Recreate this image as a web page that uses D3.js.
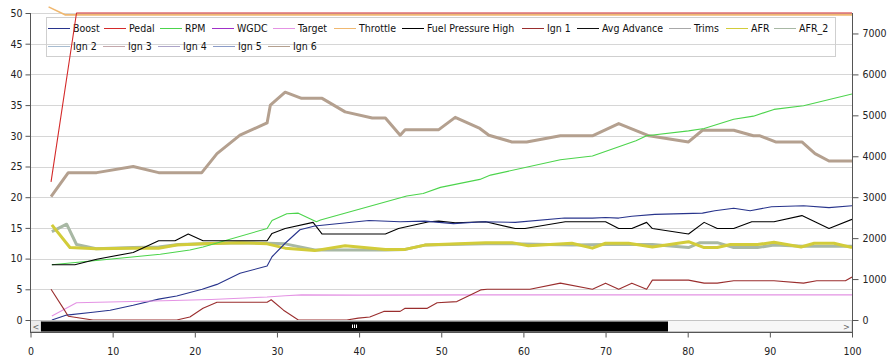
<!DOCTYPE html>
<html>
<head>
<meta charset="utf-8">
<script src="https://cdn.jsdelivr.net/npm/d3@7"></script>
<style>
    body { margin: 0; background: #fff; }
    svg text { font-family: 'DejaVu Sans Condensed', 'Liberation Sans', sans-serif; font-size: 10.5px; fill: #222; }
</style>
</head>
<body>
<div id="chart"></div>
<script>
// ---------- DATA (x = log position, value on left scale unless noted) ----------
const xTicks = [0, 10, 20, 30, 40, 50, 60, 70, 80, 90, 100];
const leftTicks = [0, 5, 10, 15, 20, 25, 30, 35, 40, 45, 50];
const rightTicks = [0, 1000, 2000, 3000, 4000, 5000, 6000, 7000];

const boost = [[2.6, 0], [4.4, 0.8], [7.6, 1.25], [9.7, 1.6], [12.5, 2.4], [15.6, 3.4], [17.8, 3.9], [20.9, 5.0], [22.7, 5.8], [25.5, 7.6], [28.8, 8.8], [29.4, 10.3], [31, 12.5], [32.8, 14.7], [34.6, 15.3], [41.2, 16.2], [45, 16.0], [48, 16.1], [51.5, 15.7], [55, 16.0], [59, 15.9], [65, 16.6], [68.4, 16.6], [70, 16.7], [71.6, 16.6], [73.2, 16.9], [76, 17.2], [81.8, 17.4], [83.3, 17.8], [85.6, 18.2], [87.6, 17.8], [90.2, 18.45], [94.1, 18.6], [97.2, 18.3], [100, 18.6]];
const pedal = [[2.5, 22.5], [5.6, 50], [100, 50]];
const throttle = [[2.2, 51], [4.2, 49.7], [100, 49.7]];
// rpm plotted on right axis
const rpm = [[2.6, 1350], [8, 1455], [15.8, 1605], [19.4, 1710], [21, 1785], [28.8, 2235], [29.4, 2430], [31.2, 2595], [32.6, 2610], [34.8, 2400], [35.3, 2445], [45.8, 3030], [47.8, 3090], [49.9, 3240], [54.7, 3435], [56, 3540], [64.5, 3915], [68.4, 4005], [73.7, 4380], [75, 4500], [80.1, 4620], [82, 4680], [85.6, 4905], [88, 4980], [90.5, 5145], [94.1, 5235], [100, 5520]];
const target = [[2.6, 0.65], [5.6, 2.8], [15, 3.1], [22, 3.35], [28.8, 3.75], [31, 3.95], [33, 4.1], [40, 4.05], [55, 4.1], [100, 4.1]];
const fuelHigh = [[2.6, 9.0], [5.4, 9.0], [8.06, 9.9], [12.5, 11.0], [15.6, 12.9], [17.6, 12.9], [19.2, 14.0], [21, 12.9], [28.8, 12.9], [29.4, 14.1], [31, 14.9], [34.4, 15.9], [35.5, 14.0], [43.2, 14.0], [44.8, 14.9], [48.5, 16.0], [49.7, 16.1], [51.7, 15.85], [55.4, 16.0], [59, 14.9], [60.2, 14.9], [65.1, 16.0], [70, 16.0], [71.6, 14.9], [73.2, 14.9], [75, 15.9], [75.7, 14.9], [80.1, 14.0], [82, 15.9], [83.6, 14.9], [85.6, 14.9], [87.8, 16.0], [90.5, 16.0], [93.9, 17.0], [97.2, 14.9], [100, 16.4]];
const ign1 = [[2.5, 5.0], [4.0, 1.9], [4.6, 0.6], [7.6, 0], [17.8, 0], [19.4, 0.5], [21, 1.9], [22.7, 2.9], [28.8, 2.9], [29.3, 3.3], [30.8, 1.6], [32.6, 0], [38.5, 0], [39.9, 0.3], [41.3, 0.5], [43, 1.4], [45, 1.4], [45.6, 1.9], [48.3, 1.9], [49.5, 2.8], [51.9, 3.0], [54.8, 4.9], [55.6, 5.0], [60.8, 5.0], [64.5, 6.0], [68.4, 5.0], [70, 6.0], [71.6, 5.0], [73.2, 6.0], [75, 5.0], [75.7, 6.5], [80.1, 6.5], [82, 6.0], [83.6, 6.0], [85.6, 6.4], [90.5, 6.4], [94.1, 6.0], [95.7, 6.4], [99.2, 6.4], [100, 7.0]];
const ign6 = [[2.5, 20.1], [4.6, 24.0], [8.06, 24.0], [12.5, 25.0], [15.6, 24.0], [20.85, 24.0], [22.7, 27.1], [25.5, 30.1], [28.8, 32.1], [29.2, 35.0], [31, 37.1], [33, 36.1], [35.5, 36.1], [38.3, 33.9], [41.6, 32.9], [43.2, 32.9], [45, 30.1], [45.6, 31.0], [49.7, 31.0], [51.7, 33.0], [54.7, 31.2], [55.8, 30.1], [58.6, 29.0], [60.4, 29.0], [64.5, 30.0], [68.4, 30.0], [71.6, 32.0], [75.3, 30.0], [80.1, 29.0], [81.8, 30.9], [85.6, 30.9], [88, 30.0], [88.8, 30.0], [90.7, 29.0], [93.9, 29.0], [95.5, 27.1], [97.2, 25.9], [100, 25.9]];
const afr = [[2.6, 15.5], [4.8, 11.8], [8, 11.6], [12.5, 11.7], [15.6, 11.7], [17.8, 12.2], [21, 12.4], [25.5, 12.6], [28.8, 12.4], [31, 11.7], [34.6, 11.3], [38.3, 12.1], [43.2, 11.5], [45.6, 11.5], [48, 12.2], [55.4, 12.6], [58.6, 12.6], [60.6, 12.1], [65.9, 12.5], [68.4, 11.7], [70, 12.5], [72.8, 12.5], [75.7, 11.9], [80.1, 12.75], [82, 11.8], [83.6, 11.8], [85.2, 12.3], [88.5, 12.3], [90.5, 12.65], [93.8, 11.9], [95.4, 12.5], [97.8, 12.5], [100, 11.8]];
const afr2 = [[2.6, 14.4], [4.4, 15.6], [5.6, 12.3], [8, 11.6], [12.5, 11.8], [15.6, 11.9], [18, 12.3], [25.5, 12.6], [28.8, 12.5], [31, 12.4], [34.6, 11.4], [38.3, 11.4], [43.2, 11.4], [45.6, 11.5], [48, 12.2], [55.4, 12.4], [58.6, 12.4], [65.9, 12.2], [70, 12.3], [75.7, 12.3], [80.1, 11.8], [81.5, 12.6], [83.6, 12.6], [85.6, 11.8], [88.5, 11.8], [90.5, 12.2], [94, 12.0], [100, 12.0]];

const legendRow1 = ['Boost', 'Pedal', 'RPM', 'WGDC', 'Target', 'Throttle', 'Fuel Pressure High', 'Ign 1', 'Avg Advance', 'Trims', 'AFR', 'AFR_2'];
const legendRow2 = ['Ign 2', 'Ign 3', 'Ign 4', 'Ign 5', 'Ign 6'];

// ---------- STYLE / LAYOUT ----------
const colors = {
    'Boost': '#28348c', 'Pedal': '#d42a2a', 'RPM': '#4cd44c', 'WGDC': '#a030c8', 'Target': '#e493e4',
    'Throttle': '#f0b870', 'Fuel Pressure High': '#000000', 'Ign 1': '#9a2e2e', 'Avg Advance': '#101010',
    'Trims': '#a8a8a8', 'AFR': '#d2cc3a', 'AFR_2': '#a8b8a4', 'Ign 2': '#a8bcd0', 'Ign 3': '#c4a8ac',
    'Ign 4': '#aca4c8', 'Ign 5': '#8c9cc8', 'Ign 6': '#b4a08f'
};
const legendTextX1 = [73, 129, 185, 237, 298, 359, 427, 547, 602, 694, 751, 799];
const legendTextX2 = [73, 128, 183, 238, 293];

const W = 894, H = 362;
const PLOT = { left: 30.5, right: 852, top: 13, bottom: 320 };

const svg = d3.select('#chart').append('svg').attr('width', W).attr('height', H);

const x = d3.scaleLinear().domain([0, 100]).range([PLOT.left, PLOT.right]);
const yL = d3.scaleLinear().domain([0, 50]).range([PLOT.bottom, PLOT.top]);
const yR = d3.scaleLinear().domain([0, 7500]).range([PLOT.bottom, PLOT.top]);

// GRID
svg.append('g').selectAll('line').data(leftTicks).enter().append('line')
    .attr('x1', 30).attr('x2', PLOT.right)
    .attr('y1', d => Math.round(yL(d)) + 0.5).attr('y2', d => Math.round(yL(d)) + 0.5)
    .attr('stroke', '#d6d6d6');

// LEGEND BOX (transparent, lines pass through it)
const leg = svg.append('g');
leg.append('rect').attr('x', 46.5).attr('y', 17.5).attr('width', 789).attr('height', 39)
    .attr('fill', 'none').attr('stroke', '#cfcfcf');
function legendRow(names, xs, cy) {
    names.forEach((n, i) => {
        leg.append('line').attr('x1', xs[i] - 25).attr('x2', xs[i] - 3)
            .attr('y1', cy + 0.5).attr('y2', cy + 0.5).attr('stroke', colors[n]);
        leg.append('text').attr('x', xs[i]).attr('y', cy + 4).text(n).style('fill', '#111');
    });
}
legendRow(legendRow1, legendTextX1, 28);
legendRow(legendRow2, legendTextX2, 46);

// CLIP
svg.append('clipPath').attr('id', 'clip').append('rect')
    .attr('x', PLOT.left).attr('y', 6).attr('width', PLOT.right - PLOT.left).attr('height', PLOT.bottom - 6);

const lineL = d3.line().x(d => x(d[0])).y(d => yL(d[1]));
const lineR = d3.line().x(d => x(d[0])).y(d => yR(d[1]));

const series = [
    { name: 'Ign 6', data: ign6, w: 3, line: lineL },
    { name: 'AFR_2', data: afr2, w: 3, line: lineL },
    { name: 'AFR', data: afr, w: 3, line: lineL },
    { name: 'RPM', data: rpm, w: 1.1, line: lineR },
    { name: 'Fuel Pressure High', data: fuelHigh, w: 1.1, line: lineL },
    { name: 'Boost', data: boost, w: 1.1, line: lineL },
    { name: 'Target', data: target, w: 1.1, line: lineL },
    { name: 'Ign 1', data: ign1, w: 1.1, line: lineL },
    { name: 'Throttle', data: throttle, w: 1.6, line: lineL },
    { name: 'Pedal', data: pedal, w: 1.1, line: lineL }
];

const lines = svg.append('g').attr('clip-path', 'url(#clip)');
series.forEach(s => {
    lines.append('path').datum(s.data)
        .attr('d', s.line)
        .attr('fill', 'none')
        .attr('stroke', colors[s.name])
        .attr('stroke-width', s.w)
        .attr('stroke-linejoin', 'round');
});

// SCROLLBAR
const sb = svg.append('g');
sb.append('rect').attr('x', 30.5).attr('y', 320.5).attr('width', PLOT.right - 30.5).attr('height', 11)
    .attr('fill', '#f7f7f7').attr('stroke', '#c4c4c4');
sb.append('rect').attr('x', 30.5).attr('y', 320.5).attr('width', 10.5).attr('height', 11)
    .attr('fill', '#ececec').attr('stroke', '#c4c4c4');
sb.append('rect').attr('x', 41).attr('y', 321.5).attr('width', 627).attr('height', 10).attr('fill', '#000');
[352.5, 354.5, 356.5].forEach(gx => {
    sb.append('line').attr('x1', gx).attr('x2', gx).attr('y1', 324.5).attr('y2', 328).attr('stroke', '#fff');
});
sb.append('text').attr('x', 36).attr('y', 330).attr('text-anchor', 'middle').style('font-size', '9px').style('fill', '#666').text('<');
sb.append('text').attr('x', 846.5).attr('y', 330).attr('text-anchor', 'middle').style('font-size', '9px').style('fill', '#666').text('>');

// LEFT AXIS
const gl = svg.append('g').attr('transform', 'translate(30.5,0)');
gl.call(d3.axisLeft(yL).tickValues(d3.range(0, 51, 1)).tickSize(2.5).tickFormat(''));
gl.call(d3.axisLeft(yL).tickValues(leftTicks).tickSize(5).tickPadding(3).tickFormat(d3.format('d')));
gl.selectAll('.domain').remove();
gl.selectAll('line').attr('stroke', '#555');
gl.append('line').attr('x1', 0).attr('x2', 0).attr('y1', PLOT.top).attr('y2', 333).attr('stroke', '#555');

// RIGHT AXIS
const gr = svg.append('g').attr('transform', `translate(${PLOT.right + 0.5},0)`);
gr.call(d3.axisRight(yR).tickValues(d3.range(0, 7500, 1000 / 3)).tickSize(3).tickFormat(''));
gr.call(d3.axisRight(yR).tickValues(rightTicks).tickSize(6).tickPadding(4).tickFormat(d3.format('d')));
gr.selectAll('.domain').remove();
gr.selectAll('line').attr('stroke', '#555');
gr.append('line').attr('x1', 0).attr('x2', 0).attr('y1', PLOT.top).attr('y2', 337).attr('stroke', '#555');

// BOTTOM AXIS
const gb = svg.append('g').attr('transform', 'translate(0,332.5)');
gb.call(d3.axisBottom(x).tickValues(d3.range(0, 101, 1)).tickSize(3).tickFormat(''));
gb.call(d3.axisBottom(x).tickValues(xTicks).tickSize(5).tickPadding(10).tickFormat(d3.format('d')));
gb.selectAll('.domain').remove();
gb.selectAll('line').attr('stroke', '#555');
gb.append('line').attr('x1', 30).attr('x2', PLOT.right + 1).attr('y1', 0).attr('y2', 0).attr('stroke', '#555');

svg.selectAll('.tick text').style('fill', '#222').style('font-size', '10.5px')
    .style('font-family', "'DejaVu Sans Condensed', 'Liberation Sans', sans-serif");
</script>
</body>
</html>
